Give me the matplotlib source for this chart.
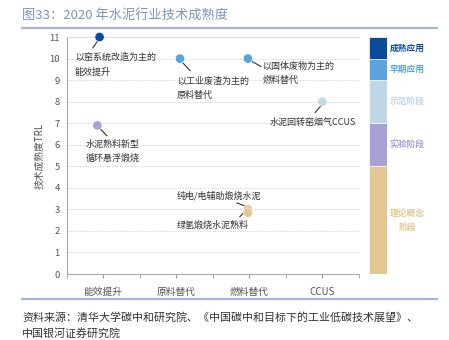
import matplotlib
matplotlib.use("Agg")
import matplotlib.pyplot as plt
from matplotlib.lines import Line2D

plt.rcParams['font.family'] = ['Noto Sans CJK SC', 'DejaVu Sans']

# categories on x axis
cats = ['能效提升', '原料替代', '燃料替代', 'CCUS']

# technologies: x position (category index, slightly shifted), TRL value
tech_x = [-0.05, 1.05, 1.98, 3.0, -0.08, 1.98, 1.98]
tech_y = [11, 10, 10, 8, 6.9, 3.0, 2.85]
tech_c = ['#0b4c9a', '#5ba2e0', '#5ba2e0', '#c2d9e8', '#a7a4d5', '#e4c68e', '#e4c68e']
tech_lab = ['以窑系统改造为主的\n能效提升', '以工业废渣为主的\n原料替代', '以固体废物为主的\n燃料替代',
            '水泥回转窑烟气CCUS', '水泥熟料新型\n循环悬浮煅烧', '纯电/电辅助煅烧水泥', '绿氢煅烧水泥熟料']

# stages (bar on the right)
stage_names = ['理论概念\n阶段', '实验阶段', '示范阶段', '早期应用', '成熟应用']
stage_lo = [0, 5, 7, 9, 10]
stage_hi = [5, 7, 9, 10, 11]
stage_c = ['#e4c790', '#a5a2d3', '#bed6e5', '#5ea2e0', '#0b4c9a']

fig = plt.figure(figsize=(4.49, 3.4), dpi=100)
fig.patch.set_facecolor('white')

# title and rules
fig.text(0.049, 0.955, '图33：2020 年水泥行业技术成熟度', fontsize=9.5, color='#8193bd', va='center')
fig.add_artist(Line2D([0.049, 0.973], [0.919, 0.919], color='#a9b6d3', lw=1.6))
fig.add_artist(Line2D([0.049, 0.973], [0.121, 0.121], color='#a9b6d3', lw=1.6))
fig.text(0.049, 0.065, '资料来源：清华大学碳中和研究院、《中国碳中和目标下的工业低碳技术展望》、',
         fontsize=7.9, color='#333333', va='center', style='italic')
fig.text(0.049, 0.02, '中国银河证券研究院', fontsize=7.9, color='#333333', va='center', style='italic')

ax = fig.add_axes([0.1485, 0.194, 0.651, 0.697])
ax.set_xlim(-0.5, 3.5)
ax.set_ylim(0, 11)
ax.set_yticks(range(0, 12))
ax.tick_params(axis='y', length=0, labelsize=6.8, labelcolor='#555555', pad=5)
ax.set_xticks([0, 1, 2, 3])
ax.set_xticklabels(cats)
ax.set_xticks([-0.5, 0.5, 1.5, 2.5, 3.5], minor=True)
ax.tick_params(axis='x', which='both', length=3, color='#999999', labelsize=7, labelcolor='#555555', pad=6)
ax.grid(axis='y', color='#cccccc', ls=(0, (1.5, 1.5)), lw=0.6)
ax.set_axisbelow(True)
for s in ['left', 'bottom']:
    ax.spines[s].set_color('#aaaaaa')
ax.spines['top'].set_color('#dddddd')
ax.spines['right'].set_visible(False)
ax.set_ylabel('技术成熟度TRL', fontsize=7, color='#555555', labelpad=3)

ax.scatter(tech_x, tech_y, s=45, c=tech_c, zorder=3, clip_on=False, edgecolors='white', linewidths=0.4)

# label text positions (data units) and leader lines
lab_pos = [(-0.39, 9.72, 'left'), (1.01, 8.63, 'left'), (2.18, 9.3, 'left'), (3.46, 7.02, 'right'),
           (-0.24, 5.7, 'left'), (1.0, 3.63, 'left'), (1.0, 2.28, 'left')]
leaders = [((-0.07, 10.85), (-0.14, 10.5)), ((1.09, 9.8), (1.19, 9.44)), ((2.04, 9.86), (2.16, 9.63)),
           ((2.99, 7.85), (2.9, 7.5)), ((-0.04, 6.74), (0.05, 6.42)), ((1.83, 3.3), (1.97, 3.12)),
           ((1.92, 2.84), (1.87, 2.66))]
for lab, (tx, ty, ha), (p0, p1) in zip(tech_lab, lab_pos, leaders):
    ax.text(tx, ty, lab, fontsize=6.5, color='#333333', ha=ha, va='center', linespacing=1.75)
    ax.plot([p0[0], p1[0]], [p0[1], p1[1]], color='#333333', lw=0.8)

# stage bar
bx = fig.add_axes([0.822, 0.194, 0.040, 0.697])
bx.set_xlim(0, 1)
bx.set_ylim(0, 11)
bx.bar([0.5] * len(stage_lo), [h - l for l, h in zip(stage_lo, stage_hi)], bottom=stage_lo,
       width=1, color=stage_c, edgecolor='white', linewidth=0.5)
bx.axis('off')
for name, lo, hi, c in zip(stage_names, stage_lo, stage_hi, stage_c):
    bx.text(1.15, (lo + hi) / 2, name, fontsize=6.3, color=c, fontweight='bold',
            ha='left', va='center', ma='center', linespacing=1.8)

fig.savefig('out.png', dpi=100)
